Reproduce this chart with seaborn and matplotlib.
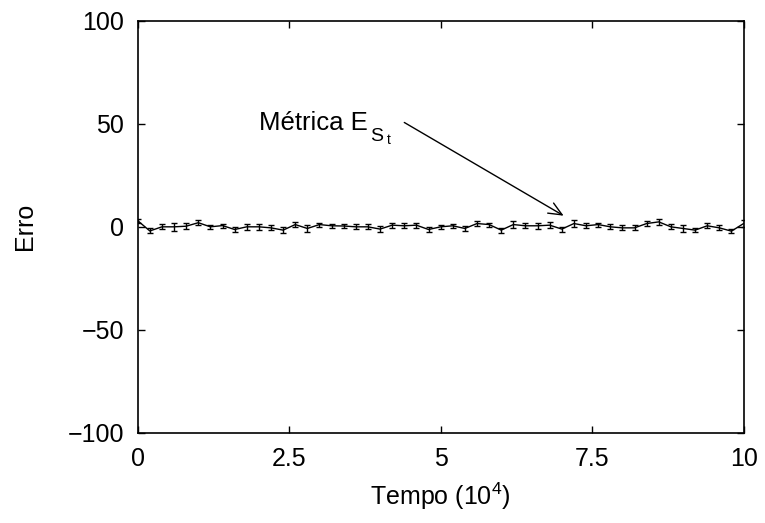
import numpy as np
import pandas as pd
import matplotlib
matplotlib.use("Agg")
import matplotlib.pyplot as plt
import seaborn as sns

# Tempo em unidades de 10^4 (51 amostras)
tempo = [i * 0.2 for i in range(51)]

# Erro médio da métrica E_St em cada instante
erro = [3.0, -2.0, 0.0, 0.0, 0.3, 2.0, 0.0, 0.6, -1.3, 0.0,
        0.0, -0.5, -1.6, 1.1, -0.8, 1.1, 0.5, 0.4, 0.0, 0.0,
        -1.1, 0.8, 0.5, 0.8, -1.3, 0.0, 0.5, -0.8, 1.6, 1.1,
        -1.6, 1.1, 0.5, 0.5, 0.8, -1.1, 1.6, 0.5, 1.1, 0.0,
        -0.5, -0.5, 1.6, 2.4, 0.0, -0.8, -1.6, 0.5, -0.5, -2.1, 1.6]

# Meia-largura das barras de erro
desvio = [1.0, 1.2, 1.2, 1.8, 1.5, 1.3, 1.0, 1.0, 1.0, 1.3,
          1.3, 1.2, 1.3, 1.3, 1.5, 1.0, 1.0, 1.0, 1.2, 1.2,
          1.3, 1.3, 1.3, 1.3, 1.2, 1.0, 1.0, 1.0, 1.0, 1.0,
          1.2, 1.5, 1.3, 1.5, 1.5, 1.2, 1.5, 1.3, 1.0, 1.2,
          1.2, 1.2, 1.0, 1.3, 1.2, 1.5, 1.0, 1.2, 1.2, 1.0, 1.5]

xticks = [0, 2.5, 5, 7.5, 10]
xticklabels = ["0", "2.5", "5", "7.5", "10"]
yticks = [-100, -50, 0, 50, 100]

df = pd.DataFrame({"tempo": tempo, "erro": erro, "desvio": desvio})

sns.set_style("white")
plt.rcParams["font.family"] = ["Liberation Sans", "DejaVu Sans"]
plt.rcParams["mathtext.fontset"] = "custom"
plt.rcParams["mathtext.rm"] = "Liberation Sans"
plt.rcParams["mathtext.it"] = "Liberation Sans"
plt.rcParams["mathtext.default"] = "regular"
for key in ["text.color", "axes.labelcolor", "xtick.color", "ytick.color",
            "axes.edgecolor"]:
    plt.rcParams[key] = "black"

fig = plt.figure(figsize=(7.65, 5.23), dpi=100)
ax = fig.add_axes([0.18, 0.1727, 0.792, 0.7872])

sns.lineplot(data=df, x="tempo", y="erro", ax=ax, color="black",
             linewidth=1.0, errorbar=None, legend=False)
ax.errorbar(df["tempo"], df["erro"], yerr=df["desvio"], fmt="none",
            ecolor="black", elinewidth=1.0, capsize=2.5, capthick=1.0)

ax.set_xlim(0, 10)
ax.set_ylim(-100, 100)
ax.set_xticks(xticks)
ax.set_xticklabels(xticklabels)
ax.set_yticks(yticks)

for side in ["top", "right", "bottom", "left"]:
    ax.spines[side].set_visible(True)
    ax.spines[side].set_color("black")
    ax.spines[side].set_linewidth(1.2)

ax.tick_params(axis="both", which="major", direction="in", length=5,
               width=1.0, color="black", labelcolor="black", labelsize=18,
               pad=10, top=True, right=True, bottom=True, left=True)

ax.set_xlabel("Tempo (10$^4$)", fontsize=18, labelpad=7, color="black")
ax.set_ylabel("Erro", fontsize=18, labelpad=22, color="black")

# Rótulo da série (E com índices S e t) e seta apontando para a curva
ax.text(2.0, 47.2, "Métrica E", fontsize=18.5, ha="left",
        va="baseline", color="black")
ax.text(3.83, 41.5, "S", fontsize=14, ha="left", va="baseline",
        color="black")
ax.text(4.11, 40.0, "t", fontsize=10, ha="left", va="baseline",
        color="black")
ax.annotate("", xy=(7.03, 5.4), xytext=(4.40, 50.7),
            arrowprops=dict(arrowstyle="->, head_length=0.8, head_width=0.35",
                            mutation_scale=12, color="black", lw=1.0,
                            shrinkA=0, shrinkB=0))

fig.savefig("out.png", dpi=100)
